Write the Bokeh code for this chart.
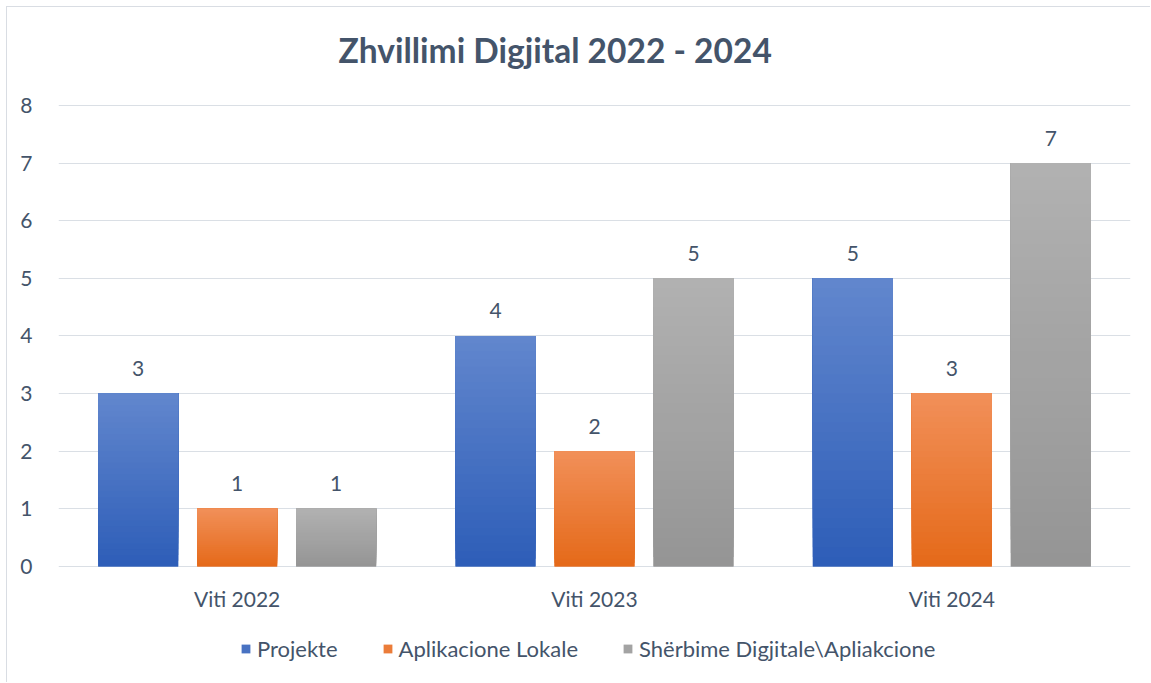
from bokeh.plotting import figure
from bokeh.models import (ColumnDataSource, Legend, LegendItem, LabelSet,
                          Range1d, FixedTicker)
from bokeh.core.properties import value
from bokeh.transform import dodge
from bokeh.embed import file_html
from bokeh.resources import INLINE

# ---- data ----
title_text = "Zhvillimi Digjital 2022 - 2024"
years = ["Viti 2022", "Viti 2023", "Viti 2024"]
projekte = [3, 4, 5]
aplikacione = [1, 2, 3]
sherbime = [1, 5, 7]
series_names = ["Projekte", "Aplikacione Lokale", "Shërbime Digjitale\\Apliakcione"]
y_ticks = [0, 1, 2, 3, 4, 5, 6, 7, 8]

# ---- style ----
TXT = "#44546A"
FONT = "Lato"
GRID = "#DADFE5"
grads = [((0x61, 0x86, 0xCD), (0x2E, 0x5E, 0xB8)),
         ((0xF1, 0x8F, 0x58), (0xE5, 0x6A, 0x1A)),
         ((0xB1, 0xB1, 0xB1), (0x95, 0x95, 0x95))]
offsets = [-0.277, 0.0, 0.277]
BAR_W = 0.224
N = 30
FS = "21px"
LFS = "22px"

p = figure(width=1144, height=676, x_range=years, y_range=Range1d(-1.805, 9.70),
           output_backend="svg", toolbar_location=None, title_location=None,
           min_border_left=51, min_border_right=21,
           min_border_top=0, min_border_bottom=13)
p.styles = {"border-left": "1px solid #D9DDE3", "border-top": "1px solid #D9DDE3",
            "margin-left": "6px", "margin-top": "6px"}
p.outline_line_color = None
p.background_fill_color = "white"

def hexc(c):
    return "#%02x%02x%02x" % tuple(int(round(v)) for v in c)

legend_items = []
for si, vals in enumerate([projekte, aplikacione, sherbime]):
    top_c, bot_c = grads[si]
    mid_c = hexc([(top_c[j] + bot_c[j]) / 2 for j in range(3)])
    base = ColumnDataSource(dict(x=years, top=vals))
    mid_r = p.vbar(x=dodge("x", offsets[si], range=p.x_range), top="top", bottom=0,
                   width=BAR_W, source=base, fill_color=mid_c, line_color=None)
    # gradient: darkest full bar first, lighter slices start progressively higher
    for k in range(N):
        frac = k / N
        t = 1 - k / (N - 1)
        col = hexc([top_c[j] + (bot_c[j] - top_c[j]) * t for j in range(3)])
        src = ColumnDataSource(dict(x=years, top=vals, bot=[v * frac for v in vals]))
        p.vbar(x=dodge("x", offsets[si], range=p.x_range), top="top", bottom="bot",
               width=BAR_W, source=src, fill_color=col, line_color=None)
    legend_items.append(LegendItem(label=series_names[si], renderers=[mid_r]))
    lsrc = ColumnDataSource(dict(x=years, v=vals, t=[str(v) for v in vals]))
    p.add_layout(LabelSet(x=dodge("x", offsets[si], range=p.x_range), y="v", text="t",
                          source=lsrc, y_offset=25, text_align="center",
                          text_baseline="middle", text_font=value(FONT),
                          text_font_size=value(FS), text_color=TXT))

# category labels below the zero line
csrc = ColumnDataSource(dict(x=years, y=[0] * len(years)))
p.add_layout(LabelSet(x="x", y="y", text="x", source=csrc, y_offset=-32,
                      text_align="center", text_baseline="middle",
                      text_font=value(FONT), text_font_size=value(FS),
                      text_color=TXT))

# title, placed above the top gridline
tsrc = ColumnDataSource(dict(x=[years[1]], y=[y_ticks[-1]], t=[title_text]))
p.add_layout(LabelSet(x="x", y="y", text="t", source=tsrc, x_offset=-256, y_offset=55,
                      text_align="left", text_baseline="middle",
                      text_font=value(FONT), text_font_size=value("33.5px"),
                      text_font_style="bold", text_color=TXT))

# axes
p.xaxis.visible = False
p.yaxis.ticker = FixedTicker(ticks=y_ticks)
p.yaxis.axis_line_color = None
p.yaxis.major_tick_line_color = None
p.yaxis.minor_tick_line_color = None
p.yaxis.major_label_standoff = 20
p.yaxis.major_label_text_font = FONT
p.yaxis.major_label_text_font_size = FS
p.yaxis.major_label_text_color = TXT

p.xgrid.grid_line_color = None
p.ygrid.grid_line_color = GRID
p.ygrid.grid_line_width = 1

legend = Legend(items=legend_items, orientation="horizontal", location=(182, 8),
                border_line_color=None, background_fill_alpha=0,
                label_text_font=FONT, label_text_font_size=LFS,
                label_text_color=TXT, glyph_width=11, glyph_height=11,
                spacing=44, label_standoff=6, padding=0, margin=0)
p.add_layout(legend, "center")

open("out.html", "w").write(file_html(p, INLINE))
